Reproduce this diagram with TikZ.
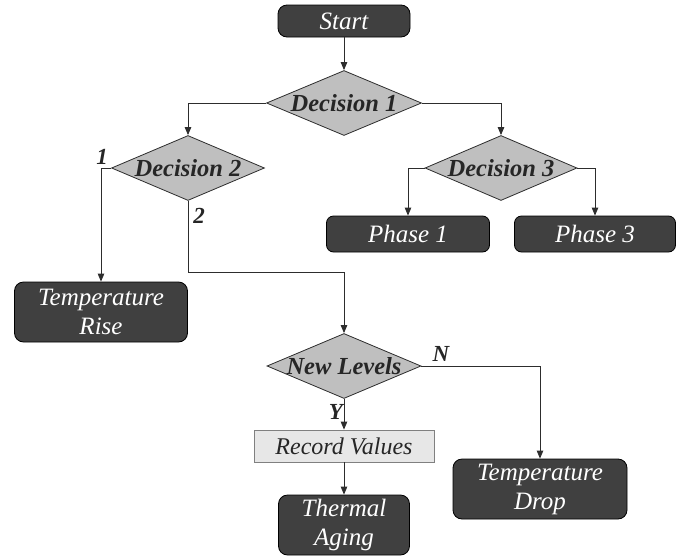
\documentclass[tikz,border=0pt]{standalone}
\usepackage{fontspec}
\setmainfont{Liberation Serif}
\usepackage{xcolor}
\usepackage{tikz}
\usetikzlibrary{positioning,arrows.meta,shapes.geometric}
\definecolor{fcdark}{RGB}{64,64,64}
\definecolor{fcgray}{RGB}{191,191,191}
\definecolor{fclight}{RGB}{231,231,231}
\definecolor{fcline}{RGB}{45,45,45}
\tikzset{
  stepnode/.style={draw=black, line width=0.8pt, fill=fcdark, rounded corners=9pt,
                   inner sep=0pt, text=white, align=center,
                   font=\fontsize{25}{29}\selectfont\itshape},
  choice/.style={diamond, draw=fcline, line width=0.8pt, fill=fcgray, inner sep=0pt,
                 minimum width=155pt, minimum height=65pt,
                 font=\fontsize{24.5}{26}\selectfont\bfseries\itshape, text=black!85},
  recbox/.style={draw=black!50, line width=0.8pt, fill=fclight, inner sep=0pt,
                 font=\fontsize{24}{26}\selectfont\itshape, text=black!85},
  branch/.style={font=\fontsize{23}{24}\selectfont\bfseries\itshape, text=black!85},
  flow/.style={draw=fcline, line width=0.9pt, -{Triangle[length=8pt,width=6.5pt]}},
}
\begin{document}
\begin{tikzpicture}[x=1pt,y=1pt]
\useasboundingbox (0,0) rectangle (686,-560);
% boxes
\node[stepnode, minimum width=132pt, minimum height=32pt] (start) at (344,-21) {Start};
\node[choice] (dec1) at (344,-103) {\makebox[0pt]{Decision 1}};
\node[choice, minimum width=153pt] (dec2) at (188,-168) {\makebox[0pt]{Decision 2}};
\node[choice, minimum width=152pt] (dec3) at (501,-168) {\makebox[0pt]{Decision 3}};
\node[stepnode, rounded corners=7pt, minimum width=163pt, minimum height=36pt] (phase1) at (408,-234) {Phase 1};
\node[stepnode, rounded corners=7pt, minimum width=161pt, minimum height=36pt] (phase3) at (595,-234) {Phase 3};
\node[stepnode, minimum width=173pt, minimum height=60pt] (rise) at (101,-312) {Temperature\\Rise};
\node[choice, minimum width=154pt] (newlev) at (344,-366) {\makebox[0pt]{New Levels}};
\node[recbox, minimum width=180pt, minimum height=32pt] (record) at (344,-446) {Record Values};
\node[stepnode, minimum width=174pt, minimum height=60pt] (drop) at (540,-489) {Temperature\\Drop};
\node[stepnode, minimum width=131pt, minimum height=60pt] (aging) at (344,-525) {Thermal\\Aging};
% branch labels
\node[branch] (lab1) at (102,-157) {1};
\node[branch] (lab2) at (199,-216) {2};
\node[branch] (labN) at (441,-354) {N};
\node[branch] (labY) at (336,-412) {Y};
% connectors
\coordinate (jog) at (188,-272);
\draw[flow] (start) -- (dec1);
\draw[flow] (dec1.west) -| (dec2.north);
\draw[flow] (dec1.east) -| (dec3.north);
\draw[flow] (dec2.west) -| (rise.north);
\draw[flow] (dec2.south) -- (jog) -| (newlev.north);
\draw[flow] (dec3.west) -| (phase1.north);
\draw[flow] (dec3.east) -| (phase3.north);
\draw[flow] (newlev.east) -| (drop.north);
\draw[flow] (newlev) -- (record);
\draw[flow] (record) -- (aging);
\end{tikzpicture}
\end{document}
